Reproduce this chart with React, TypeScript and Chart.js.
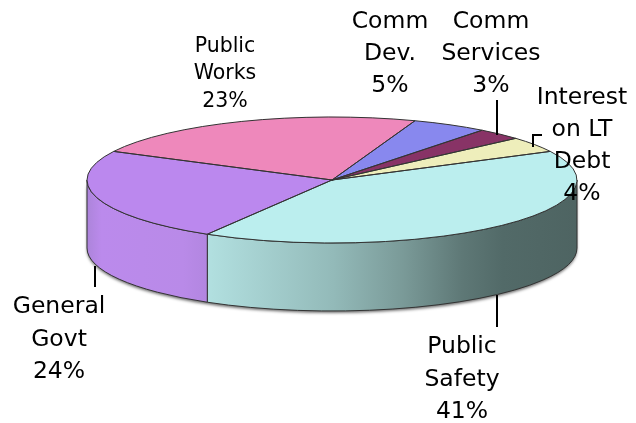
import React, { useEffect, useRef } from "react";
import { Chart, registerables } from "chart.js";
Chart.register(...registerables);

// ---- data ----
const categories: string[][] = [
  ["Public", "Safety"],
  ["General", "Govt"],
  ["Public", "Works"],
  ["Comm", "Dev."],
  ["Comm", "Services"],
  ["Interest", "on LT", "Debt"],
];
const shares: number[] = [41, 24, 23, 5, 3, 4];

// ---- styles ----
const topColors = ["#BBEEEE", "#BB88EE", "#EE88BB", "#8888EE", "#883366", "#EEEEBB"];
const sideStops: [number, string][][] = [
  [[0, "#b2e0e0"], [0.34, "#93bab9"], [0.53, "#7a9a98"], [0.69, "#5e7876"], [0.8, "#526a68"], [1, "#4e6462"]],
  [[0, "#ac84da"], [0.12, "#bb8aec"], [0.8, "#b98ae8"], [1, "#b286e0"]],
  [[0, "#c06c98"], [1, "#c06c98"]],
  [[0, "#6c6cc0"], [1, "#6c6cc0"]],
  [[0, "#6c2850"], [1, "#6c2850"]],
  [[0, "#c0c098"], [1, "#c0c098"]],
];
const labelLayout = [
  { x: 462, y: 353, lh: 32.5, size: 23.5, leader: [[497, 295], [497, 327]] },
  { x: 59, y: 313, lh: 32.5, size: 23.5, leader: [[95, 266], [95, 287]] },
  { x: 225, y: 51.7, lh: 27.5, size: 20.5, leader: null },
  { x: 390, y: 28, lh: 32, size: 23.5, leader: null },
  { x: 491, y: 28, lh: 32, size: 23.5, leader: [[497, 100], [497, 135]] },
  { x: 582, y: 104, lh: 32, size: 23.5, leader: [[542, 135], [533, 135], [533, 147]] },
];
const GEO = { cx: 332, cy: 180, rx: 245, ry: 63, depth: 68 };

function applyTopTransform(ctx: CanvasRenderingContext2D, arc: any) {
  const R = arc.outerRadius;
  ctx.translate(GEO.cx, GEO.cy);
  ctx.scale(GEO.rx / R, GEO.ry / R);
  ctx.translate(-arc.x, -arc.y);
}

const pie3d = {
  id: "pie3d",
  beforeDatasetsDraw(chart: any) {
    const ctx: CanvasRenderingContext2D = chart.ctx;
    const arcs = chart.getDatasetMeta(0).data;
    const { cx, cy, rx, ry, depth } = GEO;
    // shadow under the body
    ctx.save();
    ctx.beginPath();
    ctx.ellipse(cx, cy, rx, ry, 0, 0, Math.PI, false);
    ctx.ellipse(cx, cy + depth, rx, ry, 0, Math.PI, 0, true);
    ctx.closePath();
    ctx.shadowColor = "rgba(0,0,0,0.55)";
    ctx.shadowBlur = 3;
    ctx.shadowOffsetY = 2;
    ctx.fillStyle = "#777";
    ctx.fill();
    ctx.restore();
    // side walls
    arcs.forEach((arc: any, i: number) => {
      const s = arc.startAngle, e = arc.endAngle;
      const ranges: [number, number][] = [];
      for (const base of [0, 2 * Math.PI, -2 * Math.PI]) {
        const a = Math.max(s, base), b = Math.min(e, base + Math.PI);
        if (b > a) ranges.push([a, b]);
      }
      ranges.forEach(([a, b]) => {
        const x1 = cx + rx * Math.cos(a), x2 = cx + rx * Math.cos(b);
        const g = ctx.createLinearGradient(Math.min(x1, x2), 0, Math.max(x1, x2), 0);
        sideStops[i].forEach(([o, c]) => g.addColorStop(o, c));
        ctx.beginPath();
        ctx.ellipse(cx, cy, rx, ry, 0, a, b, false);
        ctx.lineTo(cx + rx * Math.cos(b), cy + depth + ry * Math.sin(b));
        ctx.ellipse(cx, cy + depth, rx, ry, 0, b, a, true);
        ctx.closePath();
        ctx.fillStyle = g;
        ctx.fill();
        ctx.strokeStyle = "#333";
        ctx.lineWidth = 1;
        ctx.stroke();
      });
    });
    // squash the top face
    ctx.save();
    if (arcs.length) applyTopTransform(ctx, arcs[0]);
  },
  afterDatasetsDraw(chart: any) {
    const ctx: CanvasRenderingContext2D = chart.ctx;
    ctx.restore();
    const arcs = chart.getDatasetMeta(0).data;
    // slice outlines
    arcs.forEach((arc: any) => {
      ctx.save();
      applyTopTransform(ctx, arc);
      ctx.beginPath();
      ctx.moveTo(arc.x, arc.y);
      ctx.arc(arc.x, arc.y, arc.outerRadius, arc.startAngle, arc.endAngle);
      ctx.closePath();
      ctx.restore();
      ctx.strokeStyle = "#333";
      ctx.lineWidth = 1;
      ctx.stroke();
    });
    // labels
    const labels = chart.data.labels as string[][];
    const vals = chart.data.datasets[0].data as number[];
    ctx.save();
    ctx.fillStyle = "#000";
    ctx.textAlign = "center";
    ctx.textBaseline = "alphabetic";
    labels.forEach((lines, i) => {
      const L = labelLayout[i];
      ctx.font = `${L.size}px "DejaVu Sans"`;
      const all = [...lines, `${vals[i]}%`];
      all.forEach((t, k) => ctx.fillText(t, L.x, L.y + k * L.lh));
      if (L.leader) {
        ctx.beginPath();
        ctx.moveTo(L.leader[0][0], L.leader[0][1]);
        for (let k = 1; k < L.leader.length; k++) ctx.lineTo(L.leader[k][0], L.leader[k][1]);
        ctx.strokeStyle = "#000";
        ctx.lineWidth = 2;
        ctx.stroke();
      }
    });
    ctx.restore();
  },
};

export default function App() {
  const ref = useRef<HTMLCanvasElement>(null);
  useEffect(() => {
    if (!ref.current) return;
    const chart = new Chart(ref.current, {
      type: "pie",
      data: {
        labels: categories as any,
        datasets: [
          {
            data: shares,
            backgroundColor: topColors,
            borderWidth: 0,
            clip: false as any,
          },
        ],
      },
      options: {
        responsive: false,
        animation: false,
        rotation: 63,
        layout: { padding: 0 },
        plugins: { legend: { display: false }, tooltip: { enabled: false } },
        events: [],
      },
      plugins: [pie3d],
    });
    return () => chart.destroy();
  }, []);
  return (
    <div style={{ position: "fixed", left: 0, top: 0, width: 636, height: 423, background: "#fff" }}>
      <canvas ref={ref} width={636} height={423} style={{ display: "block" }} />
    </div>
  );
}
